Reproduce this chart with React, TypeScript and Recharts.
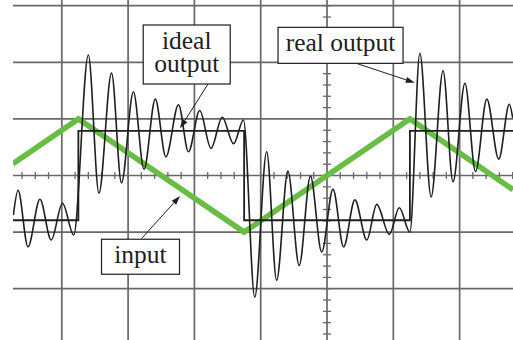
import React from 'react';
import { LineChart, Line, XAxis, YAxis, CartesianGrid, ReferenceLine, ReferenceDot } from 'recharts';

// screen span in divisions, centre of the graticule at (0, 0)
const xDomain = [-4.736, 2.805];
const yDomain = [-2.906, 3.101];

const gridX = [-4, -3, -2, -1, 0, 1, 2];
const gridY = [-2, -1, 0, 1, 2, 3];

// triangle wave on the input
const inputX = [-4.736, -3.75, -1.25, 1.25, 2.805];
const inputY = [0.21, 1, -1, 1, -0.25];

// ideal square-wave response
const idealX = [-4.736, -3.75, -3.75, -1.25, -1.25, 1.25, 1.25, 2.805];
const idealY = [-0.79, -0.79, 0.79, 0.79, -0.79, -0.79, 0.79, 0.79];

// measured trace, turning points of the ringing
const realX = [
  -4.73, -4.66, -4.51, -4.33, -4.16, -3.99, -3.82, -3.6, -3.44, -3.25, -3.1, -2.92,
  -2.76, -2.59, -2.43, -2.24, -2.09, -1.92, -1.75, -1.58, -1.41, -1.26, -1.09, -0.91,
  -0.76, -0.59, -0.42, -0.25, -0.08, 0.09, 0.25, 0.42, 0.6, 0.75, 0.94, 1.09,
  1.25, 1.4, 1.57, 1.75, 1.9, 2.08, 2.24, 2.41, 2.59, 2.75, 2.8,
];
const realY = [
  -0.7, -0.26, -1.26, -0.42, -1.14, -0.49, -1.05, 2.13, -0.31, 1.81, -0.13, 1.48,
  0.11, 1.35, 0.33, 1.25, 0.42, 1.15, 0.48, 1.03, 0.56, 0.98, -2.15, 0.42,
  -1.85, 0.08, -1.59, -0.01, -1.35, -0.24, -1.26, -0.43, -1.14, -0.51, -1.04, -0.57,
  -1.0, 2.16, -0.38, 1.85, -0.11, 1.63, 0.07, 1.35, 0.29, 1.26, 1.02,
];

const zip = (xs: number[], ys: number[]) => xs.map((x, i) => ({ x, y: ys[i] }));

const inputData = zip(inputX, inputY);
const idealData = zip(idealX, idealY);
const realData = zip(realX, realY);

// small ticks along the centre axes, every fifth of a division
const minorX: number[] = [];
for (let i = -23; i <= 14; i++) minorX.push(+(i * 0.2).toFixed(1));
const minorY: number[] = [];
for (let i = -14; i <= 15; i++) minorY.push(+(i * 0.2).toFixed(1));

const INK = '#1e1e1e';
const GRID = '#686868';
const FONT = '"Liberation Serif", "Times New Roman", serif';

const Arrow = (p: any) => {
  const { x1, y1, x2, y2 } = p;
  const a = Math.atan2(y2 - y1, x2 - x1);
  const len = 9;
  const hw = 3;
  const bx = x2 - len * Math.cos(a);
  const by = y2 - len * Math.sin(a);
  const pts = `${x2},${y2} ${bx - hw * Math.sin(a)},${by + hw * Math.cos(a)} ${bx + hw * Math.sin(a)},${by - hw * Math.cos(a)}`;
  return (
    <g>
      <line x1={x1} y1={y1} x2={bx} y2={by} stroke={INK} strokeWidth={1} />
      <polygon points={pts} fill={INK} />
    </g>
  );
};

const labelBox = (lines: string[], w: number, h: number) => (p: any) => {
  const { cx, cy } = p;
  const top = cy - h / 2;
  return (
    <g>
      <rect x={cx - w / 2} y={top} width={w} height={h} fill="#fff" stroke={INK} strokeWidth={1.2} />
      {lines.map((t, i) => (
        <text key={t} x={cx} y={top + 23.5 + i * 23.4} textAnchor="middle" fontFamily={FONT} fontSize={25.5} fill={INK}>
          {t}
        </text>
      ))}
    </g>
  );
};

export default function App() {
  return (
    <div style={{ position: 'absolute', left: 0, top: 0, background: '#fff' }}>
      <LineChart width={513} height={340} margin={{ top: 0, right: 0, bottom: 0, left: 13 }}>
        <XAxis type="number" dataKey="x" domain={xDomain} allowDataOverflow hide />
        <YAxis type="number" dataKey="y" domain={yDomain} allowDataOverflow hide />
        <CartesianGrid verticalValues={gridX} horizontalValues={gridY} stroke={GRID} strokeWidth={1.7} />

        {minorX.map((v) => (
          <ReferenceLine key={'mx' + v} segment={[{ x: v, y: -0.06 }, { x: v, y: 0.06 }]} stroke={GRID} strokeWidth={1.3} />
        ))}
        {minorY.map((v) => (
          <ReferenceLine key={'my' + v} segment={[{ x: -0.06, y: v }, { x: 0.06, y: v }]} stroke={GRID} strokeWidth={1.3} />
        ))}

        <Line data={inputData} dataKey="y" type="linear" stroke="#69bd45" strokeWidth={5.5} dot={false} isAnimationActive={false} />
        <Line data={idealData} dataKey="y" type="linear" stroke={INK} strokeWidth={1.8} dot={false} isAnimationActive={false} />
        <Line data={realData} dataKey="y" type="monotone" stroke={INK} strokeWidth={1.6} dot={false} isAnimationActive={false} />

        <ReferenceLine segment={[{ x: -1.795, y: 1.617 }, { x: -2.217, y: 0.834 }]} shape={Arrow} />
        <ReferenceLine segment={[{ x: 0.442, y: 1.982 }, { x: 1.323, y: 1.64 }]} shape={Arrow} />
        <ReferenceLine segment={[{ x: -2.795, y: -1.11 }, { x: -2.217, y: -0.362 }]} shape={Arrow} />

        <ReferenceDot x={-2.116} y={2.138} r={1} shape={labelBox(['ideal', 'output'], 87, 59)} />
        <ReferenceDot x={0.204} y={2.3} r={1} shape={labelBox(['real output'], 125, 36)} />
        <ReferenceDot x={-2.813} y={-1.435} r={1} shape={labelBox(['input'], 78, 35)} />
      </LineChart>
    </div>
  );
}
